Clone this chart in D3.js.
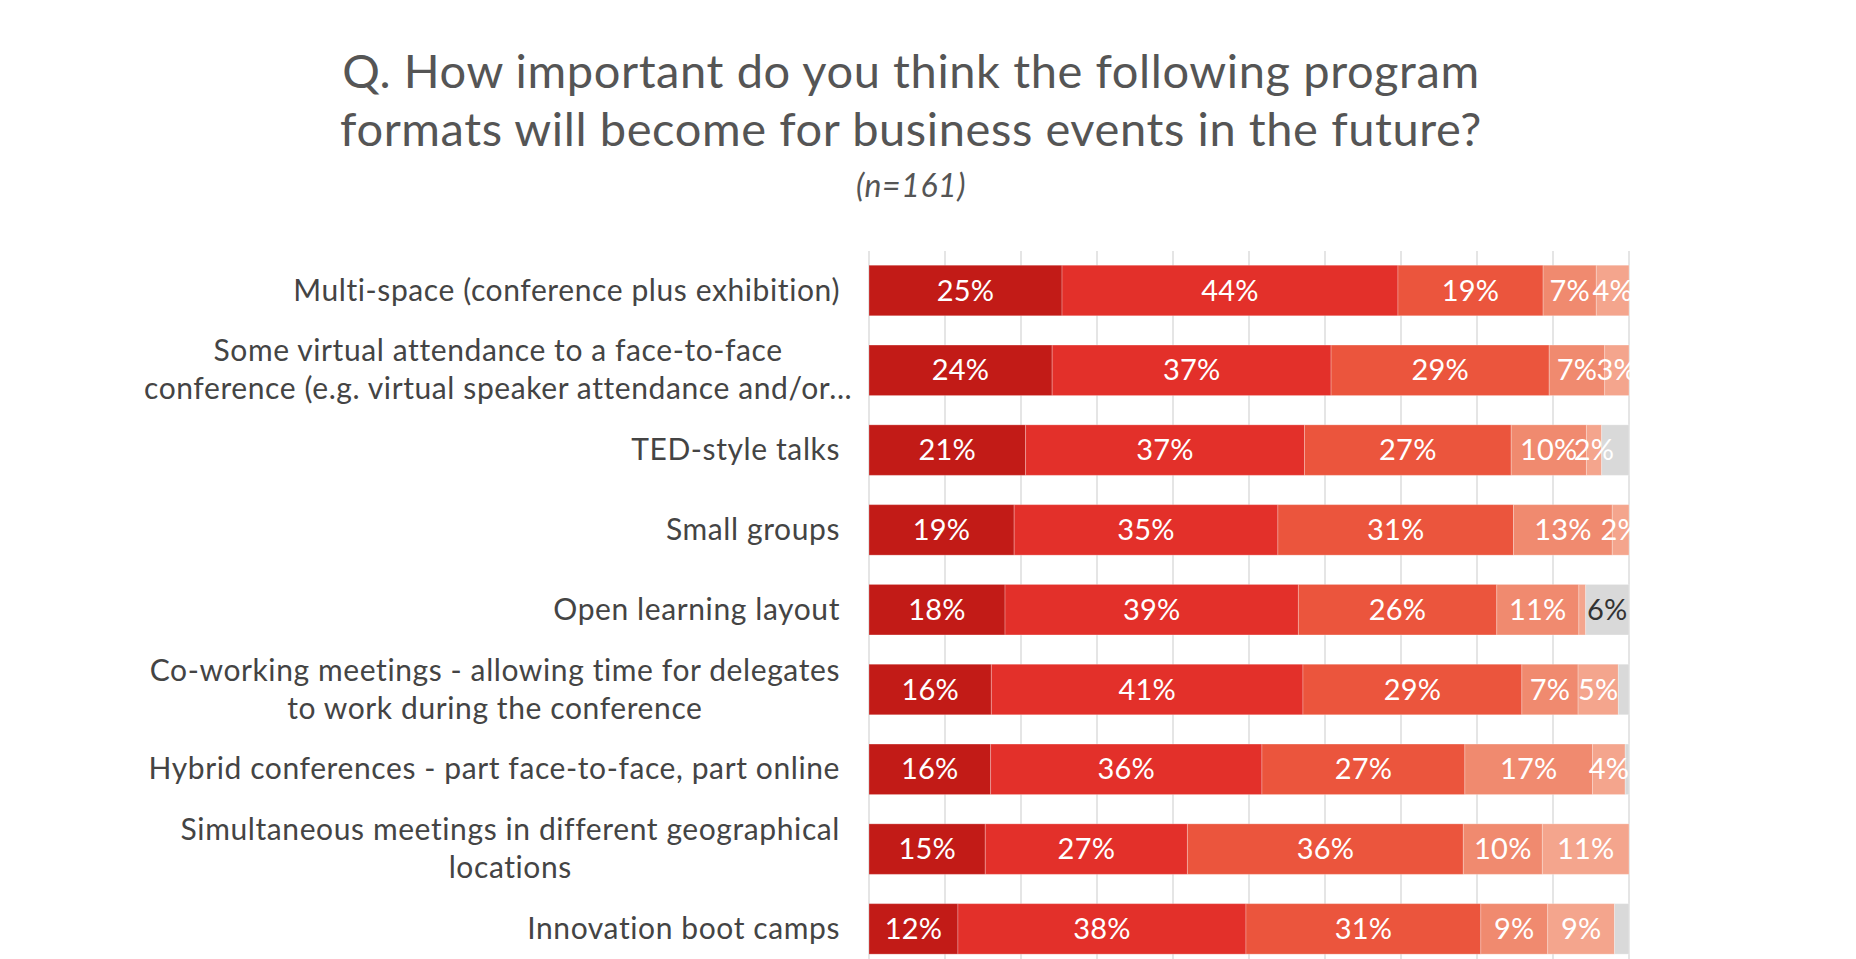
<!DOCTYPE html>
<html>
<head>
<meta charset="utf-8">
<script src="https://cdnjs.cloudflare.com/ajax/libs/d3/7.8.5/d3.min.js"></script>
<style>
  body { margin: 0; background: #fff; }
  svg { display: block; font-family: Lato, "Open Sans", sans-serif; }
</style>
</head>
<body>
<div id="chart"></div>
<script>
// Survey answers, share of respondents (%)
const categories = [
  "Multi-space (conference plus exhibition)",
  "Some virtual attendance to a face-to-face\nconference (e.g. virtual speaker attendance and/or...",
  "TED-style talks",
  "Small groups",
  "Open learning layout",
  "Co-working meetings - allowing time for delegates\nto work during the conference",
  "Hybrid conferences - part face-to-face, part online",
  "Simultaneous meetings in different geographical\nlocations",
  "Innovation boot camps"
];
const seriesNames = ["Very important", "Important", "Somewhat important", "Not very important", "Not at all important", "Don't know"];
const veryImportant     = [25.4, 24.1, 20.6, 19.1, 17.9, 16.1, 16.0, 15.3, 11.7];
const important         = [44.2, 36.7, 36.7, 34.7, 38.6, 41.0, 35.7, 26.6, 37.9];
const somewhatImportant = [19.1, 28.7, 27.2, 31.0, 26.1, 28.8, 26.7, 36.3, 30.9];
const notVeryImportant  = [ 7.0,  7.3,  9.9, 13.0, 10.8,  7.4, 16.8, 10.4,  8.8];
const notAtAll          = [ 4.3,  3.2,  2.0,  2.2,  0.9,  5.3,  4.3, 11.4,  8.8];
const dontKnow          = [ 0.0,  0.0,  3.6,  0.0,  5.7,  1.4,  0.5,  0.0,  1.9];
const xTicks = [0, 10, 20, 30, 40, 50, 60, 70, 80, 90, 100];

const colors = ["#c21b17", "#e3302a", "#eb553d", "#f08a6f", "#f4a58d", "#d9d9d9"];

const width = 1856, height = 959;
const plotLeft = 869, plotRight = 1629;
const gridTop = 251;

const rows = categories.map((c, i) => ({
  key: c,
  values: [veryImportant[i], important[i], somewhatImportant[i], notVeryImportant[i], notAtAll[i], dontKnow[i]]
}));

const svg = d3.select("#chart").append("svg")
  .attr("width", width)
  .attr("height", height);

// Title
const title = svg.append("g").attr("fill", "#555").attr("text-anchor", "middle")
  .attr("letter-spacing", 0.6);
title.append("text").attr("x", 911).attr("y", 88).attr("font-size", 47)
  .text("Q. How important do you think the following program");
title.append("text").attr("x", 911).attr("y", 146).attr("font-size", 47)
  .text("formats will become for business events in the future?");
title.append("text").attr("x", 911).attr("y", 197).attr("font-size", 32)
  .attr("font-style", "italic")
  .text("(n=161)");

// Scales
const x = d3.scaleLinear().domain([0, 100]).range([plotLeft, plotRight]);
const y = d3.scaleBand()
  .domain(categories)
  .range([250.6, 250.6 + 79.8 * categories.length])
  .paddingInner(0.367)
  .paddingOuter(0.1835);

// Grid
svg.append("g").attr("class", "grid")
  .selectAll("line")
  .data(xTicks)
  .join("line")
  .attr("x1", d => x(d)).attr("x2", d => x(d))
  .attr("y1", gridTop).attr("y2", height)
  .attr("stroke", "#dcdcdc")
  .attr("stroke-width", 1.5);

// Clip for the plot
svg.append("clipPath").attr("id", "plotClip")
  .append("rect")
  .attr("x", plotLeft).attr("y", 0)
  .attr("width", plotRight - plotLeft + 1).attr("height", height);

const plot = svg.append("g").attr("clip-path", "url(#plotClip)");

rows.forEach(row => {
  let acc = 0;
  const segs = row.values.map((v, j) => {
    const s = { start: acc, value: v, idx: j };
    acc += v;
    return s;
  });
  const g = plot.append("g");
  g.selectAll("rect")
    .data(segs.filter(s => s.value > 0))
    .join("rect")
    .attr("x", s => x(s.start))
    .attr("y", y(row.key))
    .attr("width", s => x(s.start + s.value) - x(s.start))
    .attr("height", y.bandwidth())
    .attr("fill", s => colors[s.idx])
    .attr("stroke", "#fff")
    .attr("stroke-opacity", 0.25)
    .attr("stroke-width", 1);

  g.selectAll("text")
    .data(segs.filter(s => s.value >= 1.5 && (s.idx < 5 || s.value >= 5)))
    .join("text")
    .attr("x", s => x(s.start + s.value / 2))
    .attr("y", y(row.key) + y.bandwidth() / 2 + 10)
    .attr("text-anchor", "middle")
    .attr("font-size", 29)
    .attr("letter-spacing", 0.2)
    .attr("fill", s => s.idx === 5 ? "#333" : "#fff")
    .text(s => Math.round(s.value) + "%");
});

// Category labels
const labelRight = 840, labelLeftLimit = 144, lineHeight = 38;
const labels = svg.append("g").attr("fill", "#444").attr("font-size", 30)
  .attr("letter-spacing", 0.6);
categories.forEach(c => {
  const lines = c.split("\n");
  const t = labels.append("text").attr("text-anchor", "middle");
  const cy = y(c) + y.bandwidth() / 2;
  const first = cy - (lines.length - 1) * lineHeight / 2 + 10;
  const tspans = lines.map((l, k) =>
    t.append("tspan").attr("y", first + k * lineHeight).text(l));
  const w = d3.max(tspans, s => s.node().getComputedTextLength());
  const cx = Math.max(labelRight - w / 2, labelLeftLimit + w / 2);
  tspans.forEach(s => s.attr("x", cx));
});
</script>
</body>
</html>
